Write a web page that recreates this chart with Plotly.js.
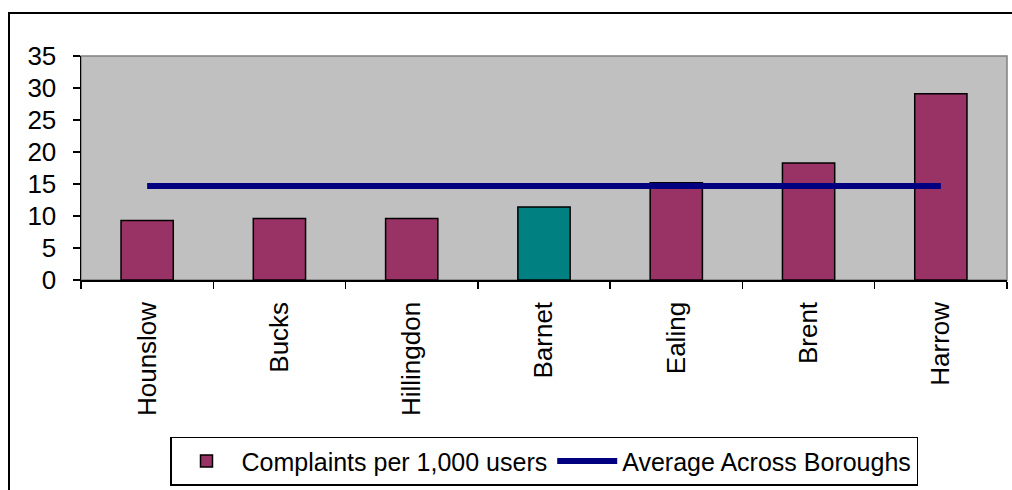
<!DOCTYPE html>
<html><head><meta charset="utf-8">
<script src="https://cdn.plot.ly/plotly-3.0.1.min.js"></script>
<style>
html,body{margin:0;padding:0;background:#fff;overflow:hidden;}
#chart{position:absolute;left:0;top:0;width:1012px;height:490px;}
#frame{position:absolute;left:8px;top:12px;width:1100px;height:600px;border:2px solid #000;pointer-events:none;}
</style></head>
<body>
<div id="chart"></div>
<div id="frame"></div>
<script>
const boroughs = ["Hounslow","Bucks","Hillingdon","Barnet","Ealing","Brent","Harrow"];
const complaints = [9.3, 9.6, 9.6, 11.4, 15.2, 18.3, 29.1];
const average = [14.7, 14.7, 14.7, 14.7, 14.7, 14.7, 14.7];
const barColors = ["#993366","#993366","#993366","#008080","#993366","#993366","#993366"];

const fam = "Arial, 'Liberation Sans', sans-serif";
const tickFont = {family: fam, size: 26, color: "#000"};
const legFont = {family: fam, size: 25, color: "#000"};

const traces = [
  {type: "bar", name: "Complaints per 1,000 users", x: boroughs, y: complaints,
   width: 0.395,
   marker: {color: barColors, line: {color: "#000", width: 1.5}}},
  {type: "scatter", mode: "lines", name: "Average Across Boroughs", x: boroughs, y: average,
   line: {color: "#000080", width: 6}}
];

const layout = {
  width: 1012, height: 490,
  margin: {l: 81, r: 5, t: 56, b: 208},
  paper_bgcolor: "rgba(0,0,0,0)",
  plot_bgcolor: "#C0C0C0",
  font: tickFont,
  showlegend: true,
  legend: {orientation: "h", x: 0.5, xanchor: "center", y: -0.70, yanchor: "top",
           bordercolor: "#000", borderwidth: 1.5, bgcolor: "#fff",
           font: legFont, itemwidth: 60, traceorder: "normal"},
  xaxis: {type: "category", showgrid: false, showline: true, linecolor: "#000", linewidth: 1.5,
          ticks: "outside", tickson: "boundaries", ticklen: 7, tickcolor: "#000", tickwidth: 1.5,
          tickangle: -90, tickfont: tickFont, ticklabelstandoff: 10, automargin: false,
          zeroline: false, fixedrange: true},
  yaxis: {range: [0, 35], tickvals: [0,5,10,15,20,25,30,35], showgrid: false,
          showline: true, linecolor: "#000", linewidth: 1.5,
          ticks: "outside", ticklen: 7, tickcolor: "#000", tickwidth: 1.5,
          tickfont: tickFont, ticklabelstandoff: 11, automargin: false,
          zeroline: false, fixedrange: true},
  shapes: [
    {type: "rect", xref: "paper", yref: "paper", x0: 0, x1: 1, y0: 0, y1: 1,
     line: {color: "#808080", width: 1.5}, layer: "below"}
  ]
};

Plotly.newPlot("chart", traces, layout, {staticPlot: true, displayModeBar: false});
</script>
</body></html>
